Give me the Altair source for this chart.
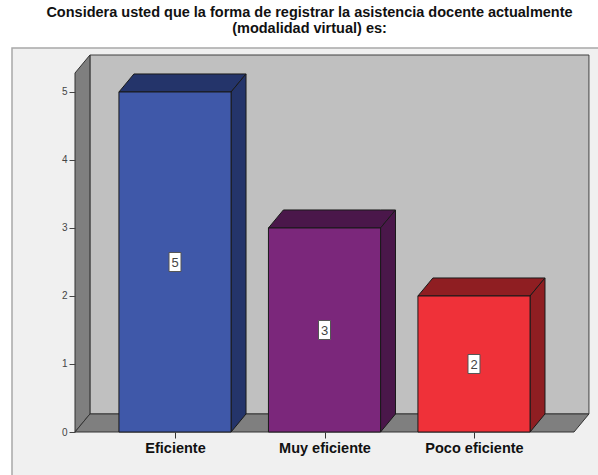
import json
import altair as alt
import pandas as pd

# Data
categorias = ["Eficiente", "Muy eficiente", "Poco eficiente"]
frecuencias = [5, 3, 2]
colores_frente = ["#3f58a9", "#7b277b", "#ef3139"]
colores_lado = ["#24346a", "#4a174a", "#8f1e22"]
titulo = [
    "Considera usted que la forma de registrar la asistencia docente actualmente",
    "(modalidad virtual) es:",
]

# Pseudo-3D geometry (in scale units)
MEDIO = 0.375          # half bar width
DX, DY = 0.1, 0.265    # depth offset of the 3D projection
X_MIN, X_MAX = -0.669, 2.669
Y_MAX = 5.647
PARED = 5.279          # front height of the walls

FUENTE = "Liberation Sans"

x_scale = alt.Scale(domain=[X_MIN, X_MAX], nice=False, zero=False)
y_scale = alt.Scale(domain=[0, Y_MAX], nice=False, zero=False)

# Front faces of the bars
frente = pd.DataFrame({
    "cat": categorias,
    "valor": frecuencias,
    "x0": [i - MEDIO for i in range(len(categorias))],
    "x1": [i + MEDIO for i in range(len(categorias))],
    "medio": [v / 2 for v in frecuencias],
    "xc": list(range(len(categorias))),
})

# Top and side faces as area polygons
filas = []
for i, (c, v) in enumerate(zip(categorias, frecuencias)):
    L, R = i - MEDIO, i + MEDIO
    pid = f"{c}-top"
    filas += [
        dict(cara=c, pid=pid, x=L, y=v, y2=v),
        dict(cara=c, pid=pid, x=L + DX, y=v, y2=v + DY),
        dict(cara=c, pid=pid, x=R, y=v, y2=v + DY),
        dict(cara=c, pid=pid, x=R + DX, y=v + DY, y2=v + DY),
    ]
    pid = f"{c}-side"
    filas += [
        dict(cara=c, pid=pid, x=R, y=0, y2=v),
        dict(cara=c, pid=pid, x=R + DX, y=DY, y2=v + DY),
    ]
caras = pd.DataFrame(filas)

# Walls and floor
pared_izq = pd.DataFrame({
    "x": [X_MIN, X_MIN + DX],
    "y": [0, DY],
    "y2": [PARED, PARED + DY],
})
piso = pd.DataFrame({
    "x": [X_MIN, X_MIN + DX, X_MAX, X_MAX + DX],
    "y": [0, 0, 0, DY],
    "y2": [0, DY, DY, DY],
})
fondo = pd.DataFrame({"x": [X_MIN + DX], "x2": [X_MAX + DX], "y": [DY], "y2": [PARED + DY]})

label_expr = json.dumps(categorias) + "[datum.value]"

marco = alt.Chart(pd.DataFrame({"a": [0]})).mark_rect(
    fill="#f0f0f0", stroke="#a8a8a8", strokeWidth=1.5
).encode(
    x=alt.value(-63), x2=alt.value(560), y=alt.value(0), y2=alt.value(460)
)

pared_fondo = alt.Chart(fondo).mark_rect(
    fill="#c0c0c0", stroke="#404040", strokeWidth=1
).encode(
    x=alt.X("x:Q", scale=x_scale,
            axis=alt.Axis(values=[0, 1, 2], labelExpr=label_expr, title=None,
                          domain=False, grid=False, tickSize=6, tickColor="#333333",
                          labelFont=FUENTE, labelFontSize=14.5, labelFontWeight="bold",
                          labelColor="#111111", labelPadding=3, zindex=1)),
    x2="x2:Q",
    y=alt.Y("y:Q", scale=y_scale,
            axis=alt.Axis(values=[0, 1, 2, 3, 4, 5], format="d", title=None,
                          domain=False, grid=False, tickSize=6, tickColor="#444444",
                          labelFont=FUENTE, labelFontSize=10, labelColor="#444444",
                          labelPadding=2, zindex=1)),
    y2="y2:Q",
)

pared = alt.Chart(pared_izq).mark_area(
    fill="#7f7f7f", stroke="#333333", strokeWidth=1
).encode(
    x=alt.X("x:Q", scale=x_scale),
    y=alt.Y("y:Q", scale=y_scale, stack=False),
    y2="y2:Q",
)

suelo = alt.Chart(piso).mark_area(
    fill="#7f7f7f", stroke="#333333", strokeWidth=1
).encode(
    x=alt.X("x:Q", scale=x_scale),
    y=alt.Y("y:Q", scale=y_scale, stack=False),
    y2="y2:Q",
)

# Top and side faces use the darker shade of each bar colour
lados = alt.Chart(caras).mark_area(
    stroke="#1a1a1a", strokeWidth=1, opacity=1
).encode(
    x=alt.X("x:Q", scale=x_scale),
    y=alt.Y("y:Q", scale=y_scale, stack=False),
    y2="y2:Q",
    detail="pid:N",
    fill=alt.Fill("cara:N", scale=alt.Scale(domain=categorias, range=colores_lado), legend=None),
)

barras = alt.Chart(frente).mark_rect(
    stroke="#1a1a1a", strokeWidth=1
).encode(
    x=alt.X("x0:Q", scale=x_scale),
    x2="x1:Q",
    y=alt.Y("valor:Q", scale=y_scale),
    y2=alt.datum(0),
    fill=alt.Fill("cat:N", scale=alt.Scale(domain=categorias, range=colores_frente), legend=None),
)

cajas = alt.Chart(frente).mark_rect(
    fill="white", stroke="#555555", strokeWidth=1, width=12, height=19
).encode(
    x=alt.X("xc:Q", scale=x_scale),
    y=alt.Y("medio:Q", scale=y_scale),
)

etiquetas = alt.Chart(frente).mark_text(
    font=FUENTE, fontSize=13, color="#444444", baseline="middle", align="center", dy=1
).encode(
    x=alt.X("xc:Q", scale=x_scale),
    y=alt.Y("medio:Q", scale=y_scale),
    text="valor:Q",
)

chart = alt.layer(
    marco, pared_fondo, pared, suelo, lados, barras, cajas, etiquetas
).resolve_scale(
    fill="independent"
).properties(
    width=499,
    height=384,
    padding={"left": 75, "top": 48, "right": 24, "bottom": 43},
    autosize=alt.AutoSizeParams(type="none"),
    background="white",
    title=alt.TitleParams(
        text=titulo, font=FUENTE, fontSize=14.5, fontWeight="bold", color="#111111",
        anchor="middle", dx=-15, offset=11, lineHeight=16,
    ),
).configure_view(stroke=None)

chart.save("out.html", embed_options={"renderer": "svg", "actions": False})
